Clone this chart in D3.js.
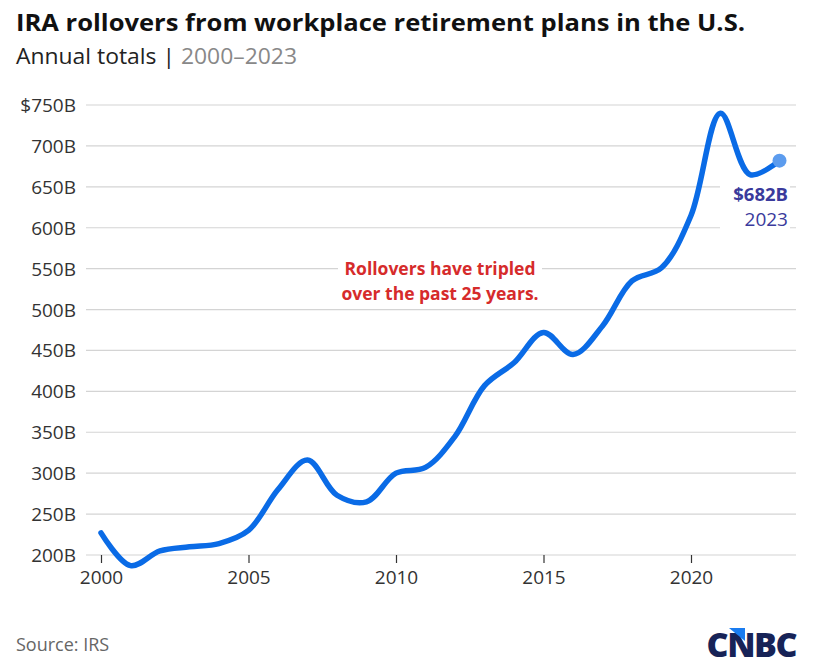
<!DOCTYPE html>
<html>
<head>
<meta charset="utf-8">
<script src="https://cdn.jsdelivr.net/npm/d3@7"></script>
<style>
  body { margin: 0; background: #fff; }
  svg text { font-family: "Open Sans", "Lato", sans-serif; }
</style>
</head>
<body>
<svg id="chart" width="818" height="672"></svg>
<script>
// data
var years = [2000, 2001, 2002, 2003, 2004, 2005, 2006, 2007, 2008, 2009, 2010, 2011,
             2012, 2013, 2014, 2015, 2016, 2017, 2018, 2019, 2020, 2021, 2022, 2023];
var rollovers = [227, 187, 205, 210, 214, 230, 280, 316, 273, 265, 300, 307,
                 345, 407, 435, 472, 445, 480, 535, 551, 615, 740, 665, 682];
var yTicks = [200, 250, 300, 350, 400, 450, 500, 550, 600, 650, 700, 750];
var xTicks = [2000, 2005, 2010, 2015, 2020];

var data = years.map(function (y, i) { return { year: y, value: rollovers[i] }; });

var svg = d3.select("#chart");

var x = d3.scaleLinear().domain([2000, 2023]).range([101, 779.5]);
var y = d3.scaleLinear().domain([200, 750]).range([555, 105]);

// Title block
svg.append("text")
    .attr("x", 16).attr("y", 31)
    .style("font-size", "24px").style("font-weight", "700").attr("fill", "#111")
    .attr("textLength", 729).attr("lengthAdjust", "spacingAndGlyphs")
    .text("IRA rollovers from workplace retirement plans in the U.S.");

var sub = svg.append("text")
    .attr("x", 16).attr("y", 64)
    .style("font-size", "21px").attr("fill", "#222")
    .attr("textLength", 281).attr("lengthAdjust", "spacingAndGlyphs");
sub.append("tspan").text("Annual totals | ");
sub.append("tspan").attr("fill", "#888").text("2000\u20132023");

// Grid lines
svg.append("g").selectAll("line")
    .data(yTicks).enter().append("line")
    .attr("x1", 86).attr("x2", 796)
    .attr("y1", function (d) { return y(d); })
    .attr("y2", function (d) { return y(d); })
    .attr("stroke", "#d4d4d4").attr("stroke-width", 1.2);

// Y labels
svg.append("g").selectAll("text")
    .data(yTicks).enter().append("text")
    .attr("x", 76)
    .attr("y", function (d) { return y(d) + 7; })
    .attr("text-anchor", "end")
    .style("font-size", "19px").attr("fill", "#333")
    .text(function (d) { return (d === 750 ? "$" : "") + d + "B"; });

// X axis ticks
var xAxis = svg.append("g")
    .attr("transform", "translate(0," + y(200) + ")")
    .call(d3.axisBottom(x).tickValues(xTicks).tickFormat(d3.format("d")).tickSize(8).tickPadding(8));
xAxis.select(".domain").remove();
xAxis.selectAll(".tick line").attr("stroke", "#333").attr("stroke-width", 1.2);
xAxis.selectAll(".tick text")
    .style("font-size", "19px").style("font-family", "'Open Sans', Lato, sans-serif").attr("fill", "#333");

// Annotation with white backing
var ann = svg.append("g").attr("transform", "translate(440,0)");
ann.append("rect").attr("x", -102).attr("y", 256).attr("width", 204).attr("height", 50).attr("fill", "#fff");
ann.append("text").attr("y", 275).attr("text-anchor", "middle")
    .style("font-size", "17.5px").style("font-weight", "700").attr("fill", "#d62b2b")
    .text("Rollovers have tripled");
ann.append("text").attr("y", 300).attr("text-anchor", "middle")
    .style("font-size", "17.5px").style("font-weight", "700").attr("fill", "#d62b2b")
    .text("over the past 25 years.");

// Line
var line = d3.line()
    .x(function (d) { return x(d.year); })
    .y(function (d) { return y(d.value); })
    .curve(d3.curveCatmullRom.alpha(0.5));

svg.append("path")
    .datum(data)
    .attr("d", line)
    .attr("fill", "none")
    .attr("stroke", "#0a6be6")
    .attr("stroke-width", 5.5)
    .attr("stroke-linecap", "round")
    .attr("stroke-linejoin", "round");

var last = data[data.length - 1];
svg.append("circle")
    .attr("cx", x(last.year)).attr("cy", y(last.value))
    .attr("r", 7).attr("fill", "#5c9cee");

// End label
var lab = svg.append("g");
lab.append("rect").attr("x", 720).attr("y", 180).attr("width", 70).attr("height", 52).attr("fill", "#fff");
lab.append("text").attr("x", 788).attr("y", 201).attr("text-anchor", "end")
    .style("font-size", "18.5px").style("font-weight", "700").attr("fill", "#3a3a9c")
    .text("$" + last.value + "B");
lab.append("text").attr("x", 788).attr("y", 226).attr("text-anchor", "end")
    .style("font-size", "19px").attr("fill", "#3a3a9c")
    .text(last.year);

// Source
svg.append("text")
    .attr("x", 16).attr("y", 651)
    .style("font-size", "18px").attr("fill", "#666")
    .text("Source: IRS");

// CNBC logo
var logo = svg.append("g");
logo.append("text")
    .attr("x", 796).attr("y", 657).attr("text-anchor", "end")
    .style("font-size", "34px").style("font-weight", "800").style("letter-spacing", "-1.5px")
    .attr("fill", "#172357")
    .text("CNBC");
logo.append("path")
    .attr("d", "M729,628 L745,628 L745,641 Z")
    .attr("fill", "#1a7cf0");
</script>
</body>
</html>
